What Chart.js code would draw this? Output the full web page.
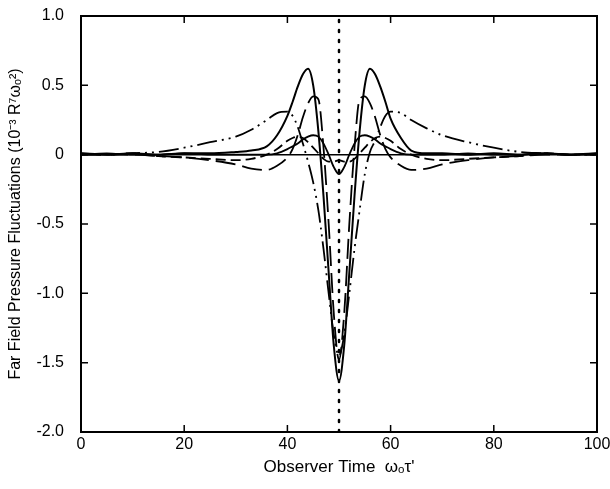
<!DOCTYPE html>
<html>
<head>
<meta charset="utf-8">
<script src="https://cdn.jsdelivr.net/npm/chart.js@4/dist/chart.umd.min.js"></script>
<style>
  html, body { margin: 0; padding: 0; background: #fff; }
  #wrap { width: 610px; height: 489px; }
</style>
</head>
<body>
<div id="wrap"><canvas id="chart" width="610" height="489"></canvas></div>
<script>
// observer time samples (shared by every curve)
const timeSamples = [0,5,10,15,20,25,30,33,36,38,40,41,42,43,44,45,46,47,48,49,50,
                     51,52,53,54,55,56,57,58,59,60,62,64,67,70,75,80,85,90,95,100];

// tall solid curve
const solidTall = [0.01,0.00,0.01,0.00,0.01,0.01,0.02,0.03,0.06,0.14,0.28,0.38,0.49,0.58,0.62,0.50,0.17,-0.30,-0.85,-1.38,-1.63,
                   -1.38,-0.85,-0.30,0.17,0.50,0.62,0.58,0.49,0.38,0.26,0.12,0.03,0.01,0.01,0.00,0.01,0.00,0.01,0.00,0.01];
// long dash curve
const longDash = [0.00,0.00,0.00,-0.01,-0.02,-0.04,-0.07,-0.10,-0.11,-0.08,-0.02,0.04,0.14,0.27,0.37,0.42,0.40,0.05,-0.50,-1.15,-1.48,
                  -1.15,-0.50,0.05,0.40,0.42,0.37,0.27,0.14,0.04,-0.02,-0.08,-0.11,-0.10,-0.07,-0.04,-0.02,-0.01,0.00,0.00,0.00];
// dash-dot-dot curve
const dashDotDot = [0.00,0.00,0.01,0.02,0.05,0.09,0.13,0.18,0.25,0.30,0.31,0.28,0.20,0.08,-0.05,-0.20,-0.40,-0.68,-1.00,-1.30,-1.45,
                    -1.30,-1.00,-0.68,-0.40,-0.14,0.02,0.10,0.20,0.28,0.31,0.30,0.25,0.19,0.14,0.09,0.05,0.02,0.01,0.00,0.00];
// small solid curve
const solidSmall = [0.00,0.01,0.00,0.00,0.01,0.00,0.00,0.00,0.00,0.01,0.04,0.06,0.08,0.11,0.13,0.14,0.13,0.08,0.00,-0.09,-0.14,
                    -0.09,0.00,0.08,0.13,0.14,0.13,0.11,0.08,0.06,0.04,0.01,0.00,0.00,0.00,0.01,0.00,0.00,0.01,0.00,0.00];
// medium dash curve
const mediumDash = [0.01,0.00,0.01,-0.01,-0.02,-0.03,-0.04,-0.03,0.00,0.04,0.10,0.12,0.13,0.12,0.09,0.05,0.01,-0.03,-0.05,-0.05,-0.04,
                    -0.05,-0.05,-0.03,0.01,0.05,0.09,0.12,0.13,0.12,0.10,0.04,0.00,-0.03,-0.04,-0.03,-0.02,-0.01,0.01,0.00,0.01];

const xRange = [0, 100];
const yRange = [-2, 1];
const xTicks = [0, 20, 40, 60, 80, 100];
const yTicks = [-2, -1.5, -1, -0.5, 0, 0.5, 1];
const yTickLabels = ['-2.0', '-1.5', '-1.0', '-0.5', '0', '0.5', '1.0'];
const markerTime = 50;

const FONT = "'Liberation Sans', Arial, sans-serif";

function pts(vals) {
  return timeSamples.map((t, i) => ({ x: t, y: vals[i] }));
}

function curve(vals, dash, width) {
  return {
    data: pts(vals),
    borderColor: '#000',
    borderWidth: width || 1.8,
    borderDash: dash || [],
    pointRadius: 0,
    cubicInterpolationMode: 'monotone',
    fill: false
  };
}

// frame + inward ticks on all four sides
const framePlugin = {
  id: 'frame',
  afterDraw(chart) {
    const { ctx, chartArea: a, scales } = chart;
    ctx.save();
    ctx.strokeStyle = '#000';
    ctx.lineWidth = 2;
    ctx.strokeRect(a.left, a.top, a.right - a.left, a.bottom - a.top);
    ctx.lineWidth = 1.5;
    const len = 7;
    xTicks.forEach(v => {
      const px = scales.x.getPixelForValue(v);
      ctx.beginPath();
      ctx.moveTo(px, a.bottom); ctx.lineTo(px, a.bottom - len);
      ctx.moveTo(px, a.top); ctx.lineTo(px, a.top + len);
      ctx.stroke();
    });
    yTicks.forEach(v => {
      const py = scales.y.getPixelForValue(v);
      ctx.beginPath();
      ctx.moveTo(a.left, py); ctx.lineTo(a.left + len, py);
      ctx.moveTo(a.right, py); ctx.lineTo(a.right - len, py);
      ctx.stroke();
    });
    ctx.restore();
  }
};

new Chart(document.getElementById('chart').getContext('2d'), {
  type: 'line',
  data: {
    datasets: [
      // zero line
      { data: xRange.map(x => ({ x, y: 0 })), borderColor: '#000', borderWidth: 1.5, pointRadius: 0 },
      // dotted marker at the centre time
      { data: yRange.map(y => ({ x: markerTime, y })), borderColor: '#000', borderWidth: 2.5,
        borderDash: [2, 8], borderCapStyle: 'round', pointRadius: 0 },
      curve(dashDotDot, [20, 5, 2, 5, 2, 5]),
      curve(mediumDash, [10, 5]),
      curve(longDash, [20, 7]),
      curve(solidSmall, []),
      curve(solidTall, [], 2)
    ]
  },
  options: {
    responsive: false,
    animation: false,
    events: [],
    layout: { padding: { top: 16, right: 13, left: 0, bottom: 8 } },
    plugins: { legend: { display: false }, tooltip: { enabled: false } },
    scales: {
      x: {
        type: 'linear',
        min: xRange[0], max: xRange[1],
        afterBuildTicks: s => { s.ticks = xTicks.map(v => ({ value: v })); },
        afterFit: s => { s.height = 49; s.paddingLeft = 0; s.paddingRight = 0; },
        grid: { display: false, drawTicks: false },
        border: { display: false },
        ticks: { color: '#000', font: { family: FONT, size: 16 }, padding: 3, maxRotation: 0 },
        title: {
          display: true,
          text: "Observer Time  \u03c9\u2092\u03c4'",
          color: '#000',
          font: { family: FONT, size: 17 },
          padding: { top: 0, bottom: 3 }
        }
      },
      y: {
        type: 'linear',
        min: yRange[0], max: yRange[1],
        afterBuildTicks: s => { s.ticks = yTicks.map(v => ({ value: v })); },
        afterFit: s => { s.width = 81; s.paddingTop = 0; s.paddingBottom = 0; },
        grid: { display: false, drawTicks: false },
        border: { display: false },
        ticks: {
          color: '#000',
          font: { family: FONT, size: 16 },
          padding: 17,
          callback: v => yTickLabels[yTicks.indexOf(v)]
        },
        title: {
          display: true,
          text: 'Far Field Pressure Fluctuations (10\u207b\u00b3 R\u2077\u03c9\u2092\u00b2)',
          color: '#000',
          font: { family: FONT, size: 16 },
          padding: { top: 6, bottom: 0 }
        }
      }
    }
  },
  plugins: [framePlugin]
});
</script>
</body>
</html>
